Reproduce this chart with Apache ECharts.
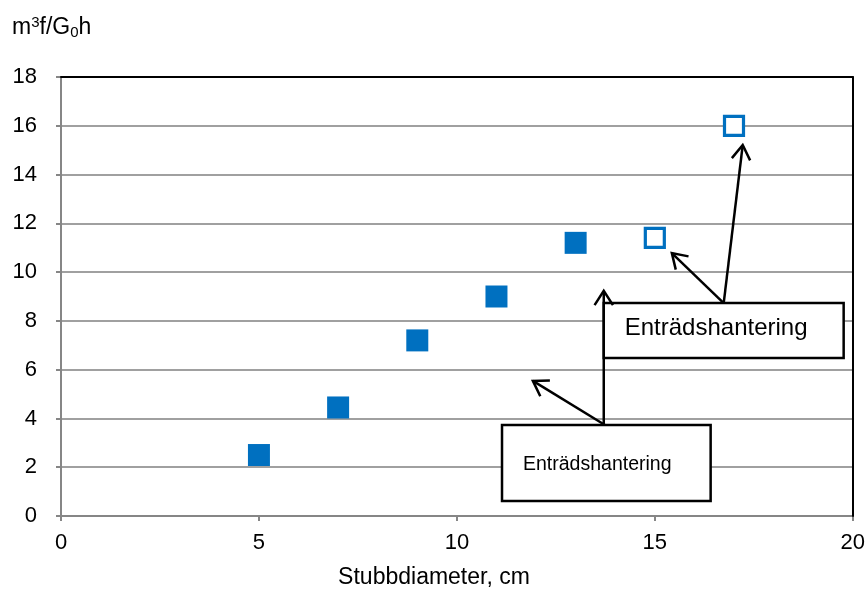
<!DOCTYPE html>
<html>
<head>
<meta charset="utf-8">
<script src="https://cdn.jsdelivr.net/npm/echarts@6/dist/echarts.min.js"></script>
<style>
html,body{margin:0;padding:0;background:#fff;}
#chart{width:868px;height:590px;}
</style>
</head>
<body>
<div id="chart"></div>
<script>
// ---- data ----
const filledX = [5, 7, 9, 11, 13];
const filledY = [2.5, 4.45, 7.2, 9.0, 11.2];
const hollowX = [15, 17];
const hollowY = [11.4, 16.0];
const xTickMin = 0, xTickMax = 20, xTickStep = 5;
const yTickMin = 0, yTickMax = 18, yTickStep = 2;
const xTitle = 'Stubbdiameter, cm';
const annotationText = 'Enträdshantering';

// ---- annotation layout (data units) ----
const boxes = [
  {x0: 13.71, x1: 19.77, y0: 6.48, y1: 8.73, tx: 14.24, ty: 7.71, size: 24},
  {x0: 11.14, x1: 16.41, y0: 0.615, y1: 3.73, tx: 11.67, ty: 2.09, size: 19.5}
];
const arrows = [
  [[13.74, 3.73], [11.92, 5.54]],
  [[13.71, 3.73], [13.71, 9.23]],
  [[16.74, 8.73], [15.43, 10.78]],
  [[16.74, 8.73], [17.22, 15.21]]
];

const FONT = '"Liberation Sans", Arial, sans-serif';
const BLUE = '#0070C0';

function arrowEls(p0, p1) {
  const dx = p1[0] - p0[0], dy = p1[1] - p0[1];
  const len = Math.hypot(dx, dy);
  const ux = dx / len, uy = dy / len;
  const L = 17, a = Math.PI / 5.5;
  const rot = (ang) => [-(ux * Math.cos(ang) - uy * Math.sin(ang)) * L,
                        -(ux * Math.sin(ang) + uy * Math.cos(ang)) * L];
  const r1 = rot(a), r2 = rot(-a);
  return [
    {type: 'line', shape: {x1: p0[0], y1: p0[1], x2: p1[0], y2: p1[1]},
     style: {stroke: '#000', lineWidth: 2.5}},
    {type: 'polyline', shape: {points: [[p1[0] + r1[0], p1[1] + r1[1]], [p1[0], p1[1]], [p1[0] + r2[0], p1[1] + r2[1]]]},
     style: {stroke: '#000', lineWidth: 2.5, fill: null}}
  ];
}

function renderAnnotations(params, api) {
  const children = [];
  boxes.forEach(b => {
    const tl = api.coord([b.x0, b.y1]);
    const br = api.coord([b.x1, b.y0]);
    children.push({type: 'rect', shape: {x: tl[0], y: tl[1], width: br[0] - tl[0], height: br[1] - tl[1]},
      style: {fill: '#fff', stroke: '#000', lineWidth: 2.5}});
    const tp = api.coord([b.tx, b.ty]);
    children.push({type: 'text', style: {text: annotationText, x: tp[0], y: tp[1],
      font: b.size + 'px ' + FONT, fill: '#000', verticalAlign: 'middle', align: 'left'}});
  });
  arrows.forEach(a => {
    arrowEls(api.coord(a[0]), api.coord(a[1])).forEach(e => children.push(e));
  });
  return {type: 'group', children: children};
}

const chart = echarts.init(document.getElementById('chart'), null, {renderer: 'canvas'});
const option = {
  animation: false,
  backgroundColor: '#fff',
  textStyle: {fontFamily: FONT},
  grid: {left: 61, right: 15, top: 77, bottom: 74, containLabel: false},
  xAxis: [
    {type: 'value', min: xTickMin, max: xTickMax, interval: xTickStep, position: 'bottom',
     axisLine: {show: true, lineStyle: {color: '#868686', width: 2}},
     axisTick: {show: true, length: 5, lineStyle: {color: '#868686', width: 2}},
     axisLabel: {fontSize: 22, color: '#000', margin: 16, fontFamily: FONT},
     splitLine: {show: false}},
    {type: 'value', min: xTickMin, max: xTickMax, position: 'top', z: 5,
     axisLine: {show: true, onZero: false, lineStyle: {color: '#000', width: 2}},
     axisTick: {show: false}, axisLabel: {show: false}, splitLine: {show: false}}
  ],
  yAxis: [
    {type: 'value', min: yTickMin, max: yTickMax, interval: yTickStep, position: 'left',
     axisLine: {show: true, lineStyle: {color: '#868686', width: 2}},
     axisTick: {show: true, length: 5, lineStyle: {color: '#868686', width: 2}},
     axisLabel: {fontSize: 22, color: '#000', margin: 24, fontFamily: FONT},
     splitLine: {show: true, lineStyle: {color: '#a0a0a0', width: 2}}},
    {type: 'value', min: yTickMin, max: yTickMax, position: 'right', z: 5,
     axisLine: {show: true, onZero: false, lineStyle: {color: '#000', width: 2}},
     axisTick: {show: false}, axisLabel: {show: false}, splitLine: {show: false}}
  ],
  graphic: [
    {type: 'text', left: 12, top: 15, z: 10,
     style: {rich: {
        b: {fontSize: 23, fontFamily: FONT, fill: '#000'},
        sup: {fontSize: 15, fontFamily: FONT, fill: '#000', verticalAlign: 'top', padding: [0, 0, 8, 0]},
        sub: {fontSize: 15, fontFamily: FONT, fill: '#000', padding: [10, 0, 0, 0]}
      },
      text: '{b|m}{sup|3}{b|f/G}{sub|0}{b|h}'}},
    {type: 'text', left: 'center', top: 566, z: 10,
     style: {text: xTitle, font: '23px ' + FONT, fill: '#000'}}
  ],
  series: [
    {type: 'scatter', xAxisIndex: 0, yAxisIndex: 0, symbol: 'rect', symbolSize: 22,
     itemStyle: {color: BLUE, opacity: 1}, z: 3,
     data: filledX.map((x, i) => [x, filledY[i]])},
    {type: 'scatter', xAxisIndex: 0, yAxisIndex: 0, symbol: 'rect', symbolSize: 19,
     itemStyle: {color: '#fff', borderColor: BLUE, borderWidth: 3.2, opacity: 1}, z: 3,
     data: hollowX.map((x, i) => [x, hollowY[i]])},
    {type: 'custom', xAxisIndex: 0, yAxisIndex: 0, clip: false, z: 4,
     renderItem: renderAnnotations, data: [[0, 0]], silent: true}
  ]
};
chart.setOption(option);
</script>
</body>
</html>
